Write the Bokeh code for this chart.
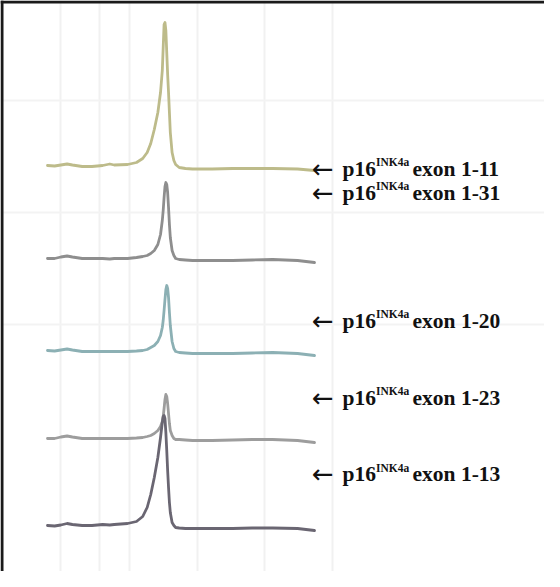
from bokeh.plotting import figure
from bokeh.models import Range1d, Label, Span, FixedTicker, ColumnDataSource, Grid
from bokeh.embed import file_html
from bokeh.resources import INLINE

# ---------------- data ----------------
# temperature (deg C) and melt-curve derivative values (arbitrary units)
temps = [65.0, 65.8, 66.5, 67.2, 67.8, 68.9, 70.0, 71.2, 72.0, 72.5,
         74.0, 75.0, 75.7, 76.2, 76.6, 77.0, 77.4, 77.7, 77.9, 78.0,
         78.1, 78.2, 78.3, 78.4, 78.5, 78.6, 78.7, 78.8, 79.0, 79.2,
         79.4, 79.8, 80.5, 81.3, 83.5, 85.8, 88.0, 90.3, 93.1, 95.0]

exon_1_11 = [0.01, 0.005, 0.015, 0.025, 0.015, 0.00, 0.00, 0.01, 0.025, 0.015,
             0.02, 0.04, 0.08, 0.14, 0.23, 0.37, 0.54, 0.74, 0.96, 1.19,
             1.42, 1.44, 1.36, 1.14, 0.92, 0.74, 0.54, 0.34, 0.14, 0.06,
             0.02, -0.01, -0.02, -0.025, -0.025, -0.02, -0.02, -0.02, -0.025, -0.04]

exon_1_31 = [0.00, 0.00, 0.015, 0.025, 0.015, 0.00, 0.00, 0.00, -0.005, 0.00,
             0.00, 0.01, 0.02, 0.03, 0.05, 0.08, 0.14, 0.24, 0.38, 0.48,
             0.61, 0.72, 0.76, 0.74, 0.66, 0.51, 0.34, 0.21, 0.08, 0.03,
             0.00, -0.01, -0.015, -0.02, -0.02, -0.02, -0.015, -0.01, -0.02, -0.04]

exon_1_20 = [0.01, 0.005, 0.015, 0.025, 0.015, 0.00, 0.00, 0.00, 0.00, 0.00,
             0.00, 0.005, 0.01, 0.02, 0.04, 0.06, 0.10, 0.16, 0.24, 0.31,
             0.41, 0.52, 0.62, 0.66, 0.63, 0.54, 0.39, 0.26, 0.10, 0.03,
             0.00, -0.01, -0.015, -0.02, -0.02, -0.02, -0.015, -0.01, -0.02, -0.04]

exon_1_23 = [0.00, 0.00, 0.015, 0.025, 0.015, 0.00, 0.00, 0.00, 0.00, 0.00,
             0.00, 0.005, 0.01, 0.02, 0.03, 0.05, 0.08, 0.12, 0.17, 0.22,
             0.30, 0.39, 0.44, 0.42, 0.35, 0.25, 0.15, 0.08, 0.03, 0.00,
             -0.01, -0.01, -0.015, -0.02, -0.02, -0.015, -0.01, -0.01, -0.02, -0.04]

exon_1_13 = [0.00, -0.005, 0.005, 0.02, 0.01, 0.00, 0.00, 0.01, 0.005, 0.01,
             0.02, 0.04, 0.09, 0.18, 0.31, 0.48, 0.68, 0.88, 1.03, 1.09,
             1.10, 1.07, 0.93, 0.75, 0.55, 0.38, 0.23, 0.13, 0.03, 0.00,
             -0.02, -0.025, -0.03, -0.03, -0.03, -0.03, -0.025, -0.025, -0.03, -0.05]

series_keys = ["exon_1_11", "exon_1_31", "exon_1_20", "exon_1_23", "exon_1_13"]
series_values = [exon_1_11, exon_1_31, exon_1_20, exon_1_23, exon_1_13]

gene_name = "p16"
gene_sup = "INK4a"
label_texts = ["exon 1-11", "exon 1-31", "exon 1-20", "exon 1-23", "exon 1-13"]

# ---------------- layout / style ----------------
W, H = 544, 571
PX_PER_DEG = 8.9
X0 = 59.72
PX_PER_UNIT = 100.0
baselines = [166, 258, 351, 438, 525]          # canvas px from top
colors = ["#bdbb8a", "#8e8e8e", "#8cb0b4", "#9d9d9d", "#6a6672"]
label_baselines = [168, 192, 320, 397, 473.5]  # canvas px from top

p = figure(width=W, height=H, output_backend="svg", toolbar_location=None,
           x_range=Range1d(X0, X0 + W / PX_PER_DEG), y_range=Range1d(H, 0),
           x_axis_type=None, y_axis_type=None, min_border=0,
           background_fill_color="white", border_fill_color="white")
p.outline_line_color = None

# faint background grid
p.add_layout(Grid(dimension=0, ticker=FixedTicker(ticks=[66.46, 70.84, 74.21, 81.85, 89.38, 97.02]),
                  grid_line_color="#f1f1f1", grid_line_width=2))
p.add_layout(Grid(dimension=1, ticker=FixedTicker(ticks=[100, 212, 324]),
                  grid_line_color="#f3f3f3", grid_line_width=2))

src = ColumnDataSource(dict(T=temps, **{k: v for k, v in zip(series_keys, series_values)}))

for key, base, col in zip(series_keys, baselines, colors):
    p.extra_y_ranges[key] = Range1d(start=(base - H) / PX_PER_UNIT, end=base / PX_PER_UNIT)
    p.line(x="T", y=key, source=src, y_range_name=key, line_color=col,
           line_width=2.8, line_join="round", line_cap="round")

# frame border (left and top edges visible)
p.add_layout(Span(location=X0 + 1.5 / PX_PER_DEG, dimension="height",
                  line_color="#1a1a1a", line_width=3))
p.add_layout(Span(location=1.5, dimension="width",
                  line_color="#1a1a1a", line_width=3))

font = "Liberation Serif"
for txt, yb in zip(label_texts, label_baselines):
    common = dict(x_units="screen", y_units="data", text_color="#111111",
                  text_baseline="alphabetic", text_align="left")
    p.add_layout(Label(x=311.5, y=yb, text="\u2190", text_font="DejaVu Sans",
                       text_font_size="26px", **common))
    p.add_layout(Label(x=342, y=yb, text=gene_name, text_font=font, text_font_style="bold",
                       text_font_size="21.5px", **common))
    p.add_layout(Label(x=375.5, y=yb - 6.5, text=gene_sup, text_font=font, text_font_style="bold",
                       text_font_size="11.5px", **common))
    p.add_layout(Label(x=412, y=yb, text=txt, text_font=font, text_font_style="bold",
                       text_font_size="21.5px", **common))

open("out.html", "w").write(file_html(p, INLINE))
